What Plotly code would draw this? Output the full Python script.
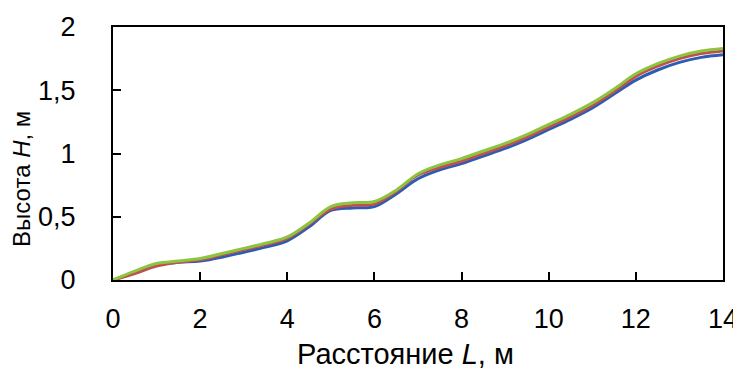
import plotly.graph_objects as go

L_m = [0, 0.5, 1, 1.5, 2, 2.5, 3, 3.5, 4, 4.5, 5, 5.5, 6, 6.5, 7, 7.5, 8, 8.5, 9, 9.5,
       10, 10.5, 11, 11.5, 12, 12.5, 13, 13.5, 14]
H_blue = [0, 0.06, 0.12, 0.14, 0.15, 0.18, 0.22, 0.26, 0.31, 0.42, 0.55, 0.57, 0.58, 0.68, 0.80,
          0.87, 0.92, 0.98, 1.04, 1.11, 1.19, 1.27, 1.36, 1.47, 1.58, 1.66, 1.72, 1.76, 1.78]
H_red = [0, 0.05, 0.11, 0.14, 0.16, 0.20, 0.24, 0.28, 0.33, 0.44, 0.56, 0.59, 0.60, 0.70, 0.83,
         0.89, 0.94, 1.00, 1.06, 1.13, 1.21, 1.29, 1.38, 1.49, 1.61, 1.69, 1.75, 1.79, 1.81]
H_green = [0, 0.07, 0.13, 0.15, 0.17, 0.21, 0.25, 0.29, 0.34, 0.45, 0.58, 0.61, 0.62, 0.71, 0.84,
           0.91, 0.96, 1.02, 1.08, 1.15, 1.23, 1.31, 1.40, 1.51, 1.63, 1.71, 1.77, 1.81, 1.83]

x_ticks = [0, 2, 4, 6, 8, 10, 12, 14]
y_ticks = [0, 0.5, 1, 1.5, 2]
y_tick_labels = ["0", "0,5", "1", "1,5", "2"]

FONT = "Liberation Sans, Arial, sans-serif"

fig = go.Figure()
for y, c in [(H_blue, "#2c5cb4"), (H_red, "#c0504d"), (H_green, "#8cc540")]:
    fig.add_trace(go.Scatter(x=L_m, y=y, mode="lines", line=dict(color=c, width=3, shape="spline"),
                             showlegend=False, hoverinfo="skip"))

axis_common = dict(showgrid=False, zeroline=False, showline=True, linecolor="black", linewidth=2,
                   mirror=True, ticks="inside", ticklen=8, tickwidth=2, tickcolor="black",
                   automargin=False,
                   tickfont=dict(family=FONT, size=27, color="black"))

fig.update_xaxes(range=[0, 14], tickvals=x_ticks, ticklabelstandoff=14, **axis_common)
fig.update_yaxes(range=[0, 2], tickvals=y_ticks, ticktext=y_tick_labels, ticklabelstandoff=30,
                 **axis_common)

fig.add_annotation(text="Расстояние <i>L</i>, м", xref="paper", yref="paper", x=0.48, y=-0.292,
                   xanchor="center", yanchor="middle", showarrow=False,
                   font=dict(family=FONT, size=29, color="black"))
fig.add_annotation(text="Высота <i>H</i>, м", xref="paper", yref="paper", x=-0.149, y=0.40,
                   xanchor="center", yanchor="middle", textangle=-90, showarrow=False,
                   font=dict(family=FONT, size=24, color="black"))

fig.update_layout(width=733, height=366, margin=dict(l=105, r=18, t=19, b=94),
                  plot_bgcolor="white", paper_bgcolor="white")

fig.write_html("out.html")
